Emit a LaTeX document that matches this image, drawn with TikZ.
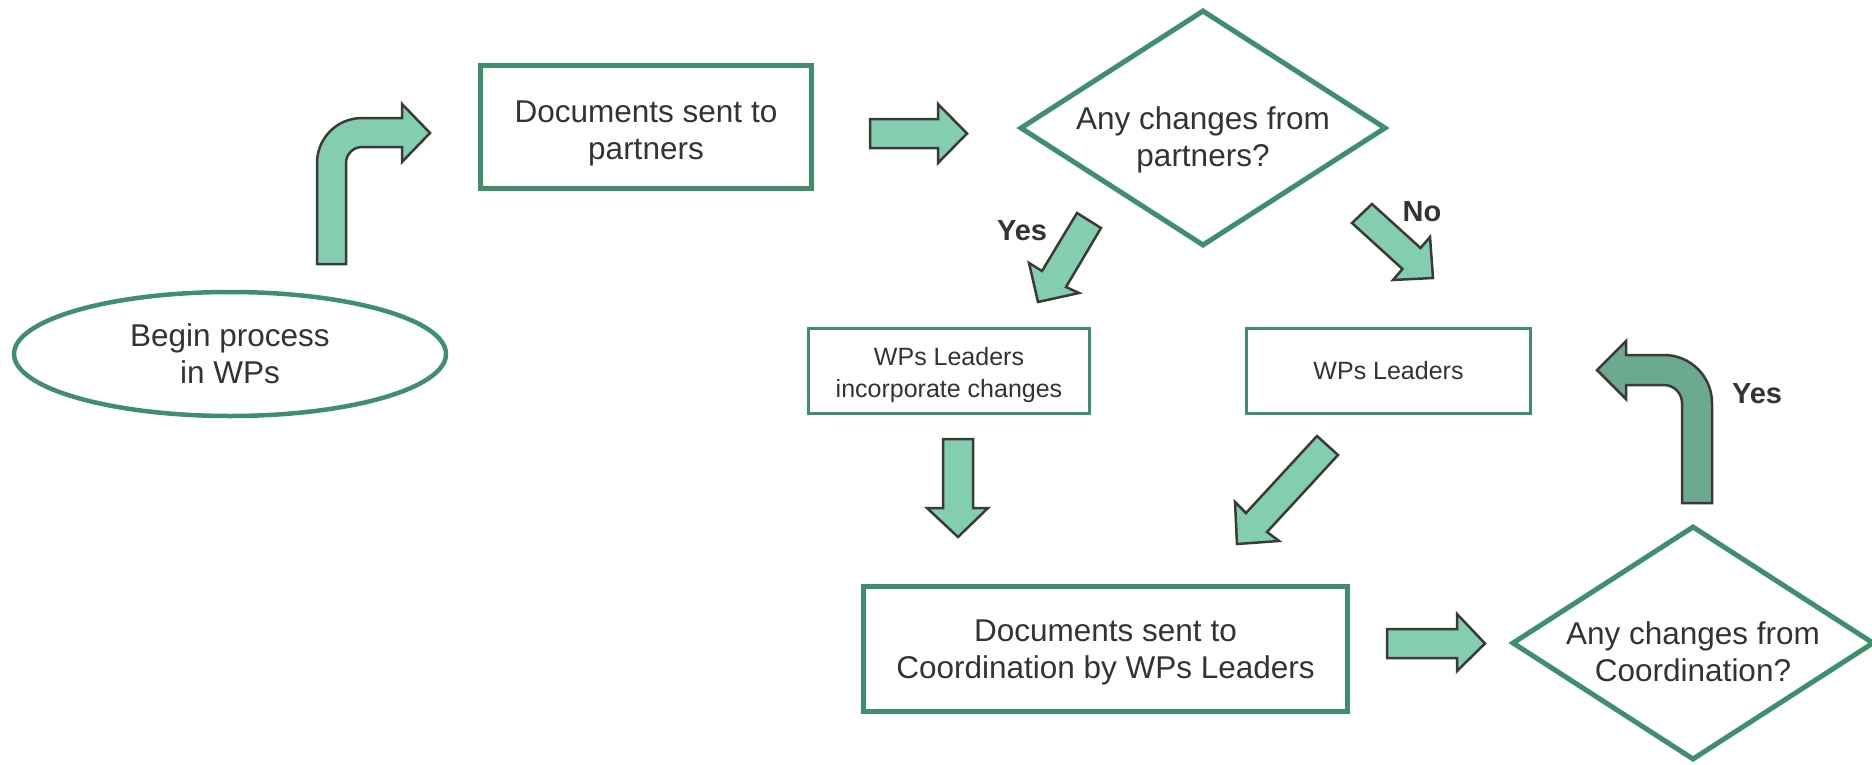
\documentclass[tikz,border=0pt]{standalone}
\usepackage{fontspec}
\setmainfont{Liberation Sans}
\usetikzlibrary{shapes.geometric}
\definecolor{boxgreen}{HTML}{3F8F6D}
\definecolor{arrowfill}{HTML}{84CEB0}
\definecolor{arrowdark}{HTML}{6BAA8E}
\definecolor{outlinegray}{HTML}{3A3A3A}
\definecolor{txt}{HTML}{333333}
\begin{document}
\begin{tikzpicture}[x=1pt,y=-1pt,
  maintext/.style={text=txt, align=center, font=\fontsize{31.5}{37}\selectfont},
  smalltext/.style={text=txt, align=center, font=\fontsize{25}{32}\selectfont},
  labeltext/.style={text=txt, font=\fontsize{29}{34}\selectfont\bfseries},
  bigbox/.style={draw=boxgreen, line width=5pt, rectangle, inner sep=0pt},
  smallbox/.style={draw=boxgreen, line width=3.5pt, rectangle, inner sep=0pt},
  startoval/.style={draw=boxgreen, line width=4.5pt, ellipse, inner sep=0pt, maintext},
  decision/.style={draw=boxgreen, line width=5pt, diamond, inner sep=0pt},
  blockarrow/.style={fill=arrowfill, draw=outlinegray, line width=2.5pt, line join=miter},
  blockarrowdark/.style={fill=arrowdark, draw=outlinegray, line width=2.5pt, line join=miter}
]
\useasboundingbox (0,0) rectangle (1872,764);

% nodes
\node[startoval, minimum width=432pt, minimum height=124pt] (begin) at (230,354) {Begin process\\in WPs};
\node[bigbox, minimum width=331pt, minimum height=123pt] (docs1) at (646,127) {};
\node[maintext] (docs1text) at (646,133) {Documents sent to\\partners};
\node[decision, minimum width=366pt, minimum height=236pt] (dec1) at (1203,128) {};
\node[maintext] (dec1text) at (1203,140) {Any changes from\\partners?};
\node[smallbox, minimum width=281pt, minimum height=85pt] (incorp) at (949,371) {};
\node[smalltext] (incorptext) at (949,375) {WPs Leaders\\incorporate changes};
\node[smallbox, minimum width=284pt, minimum height=85pt, smalltext] (leaders) at (1388.5,371) {WPs Leaders};
\node[bigbox, minimum width=484pt, minimum height=125pt] (docs2) at (1105.5,649) {};
\node[maintext] (docs2text) at (1105.5,652) {Documents sent to\\Coordination by WPs Leaders};
\node[decision, minimum width=362pt, minimum height=234pt] (dec2) at (1693,643) {};
\node[maintext] (dec2text) at (1693,652) {Any changes from\\Coordination?};

% labels
\node[labeltext] (yes1) at (1022,231) {Yes};
\node[labeltext] (no1) at (1422,212) {No};
\node[labeltext] (yes2) at (1757,394) {Yes};

% bent arrow from start to documents
\draw[blockarrow] (317,264) -- (317,163) .. controls (317,138.1) and (337.1,118) .. (362,118)
  -- (402,118) -- (402,104) -- (430,133) -- (402,162) -- (402,147) -- (362,147)
  .. controls (353.2,147) and (346,154.2) .. (346,163) -- (346,264) -- cycle;

% right arrow docs1 -> dec1
\draw[blockarrow] (870,119) -- (938,119) -- (938,104) -- (967,133.5) -- (938,163) -- (938,148) -- (870,148) -- cycle;

% yes diagonal arrow
\draw[blockarrow] (1077,213) -- (1101,228) -- (1066,287) -- (1079,293) -- (1038,302) -- (1029,263) -- (1042,271) -- cycle;

% no diagonal arrow
\draw[blockarrow] (1372,204) -- (1420.5,248) -- (1430,237) -- (1433,278) -- (1393,280) -- (1402.5,269) -- (1352,223) -- cycle;

% down arrow
\draw[blockarrow] (943,439) -- (973,439) -- (973,508) -- (988,508) -- (958,537) -- (927,508) -- (943,508) -- cycle;

% diagonal arrow from leaders
\draw[blockarrow] (1317,436) -- (1338,455) -- (1267,532) -- (1279,541) -- (1237,544) -- (1235,502) -- (1246,513) -- cycle;

% right arrow docs2 -> dec2
\draw[blockarrow] (1387,629) -- (1457,629) -- (1457,614) -- (1485,643.5) -- (1457,671) -- (1457,658) -- (1387,658) -- cycle;

% bent arrow back (yes)
\draw[blockarrowdark] (1712,503) -- (1712,403) .. controls (1712,376.5) and (1690.5,355) .. (1664,355)
  -- (1626,355) -- (1626,341) -- (1597,370) -- (1626,399) -- (1626,385) -- (1664,385)
  .. controls (1673.9,385) and (1682,393.1) .. (1682,403) -- (1682,503) -- cycle;
\end{tikzpicture}
\end{document}
